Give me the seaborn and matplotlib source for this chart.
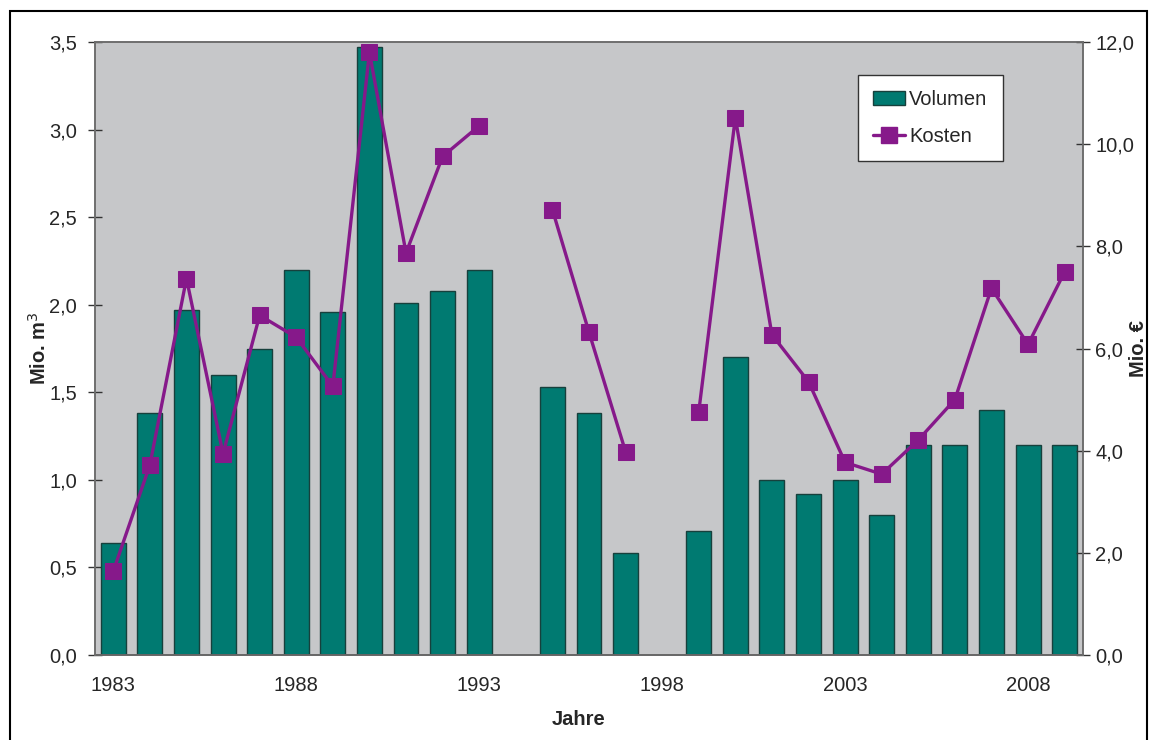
import numpy as np
import pandas as pd
import seaborn as sns
import matplotlib.pyplot as plt
from matplotlib.patches import Patch, Rectangle
from matplotlib.lines import Line2D
from matplotlib.ticker import FuncFormatter, FixedLocator

# Jahre mit Daten (1994 und 1998 fehlen)
years = [1983, 1984, 1985, 1986, 1987, 1988, 1989, 1990, 1991, 1992, 1993,
         1995, 1996, 1997,
         1999, 2000, 2001, 2002, 2003, 2004, 2005, 2006, 2007, 2008, 2009]
# Volumen in Mio. m3
volumen = [0.64, 1.38, 1.97, 1.60, 1.75, 2.20, 1.96, 3.47, 2.01, 2.08, 2.20,
           1.53, 1.38, 0.58,
           0.71, 1.70, 1.00, 0.92, 1.00, 0.80, 1.20, 1.20, 1.40, 1.20, 1.20]
# Kosten in Mio. Euro
kosten = [1.64, 3.72, 7.37, 3.94, 6.65, 6.22, 5.26, 11.8, 7.87, 9.76, 10.36,
          8.72, 6.32, 3.98,
          4.76, 10.52, 6.27, 5.35, 3.77, 3.54, 4.21, 5.00, 7.18, 6.08, 7.50]
# zusammenhaengende Abschnitte der Linie
segment = [1] * 11 + [2] * 3 + [3] * 11
label_years = [1983, 1988, 1993, 1998, 2003, 2008]

BAR = "#007a71"
LINE = "#86198a"
BG = "#c6c7c9"

df = pd.DataFrame({"Jahr": years, "Volumen": volumen, "Kosten": kosten, "seg": segment})

sns.set_style("white")
plt.rcParams['font.family'] = ['Liberation Sans', 'DejaVu Sans']

fig = plt.figure(figsize=(11.5, 7.4), dpi=100)
ax = fig.add_axes([0.0826, 0.1149, 0.8591, 0.8283])
ax.set_facecolor(BG)

sns.barplot(data=df, x="Jahr", y="Volumen", native_scale=True, width=0.68,
            color=BAR, edgecolor="#17403c", linewidth=1, saturation=1,
            errorbar=None, ax=ax)

ax2 = ax.twinx()
sns.lineplot(data=df, x="Jahr", y="Kosten", units="seg", estimator=None,
             color=LINE, linewidth=2.4, marker="s", markersize=12,
             markeredgecolor=LINE, ax=ax2, legend=False)

comma = FuncFormatter(lambda v, p: "{:.1f}".format(v).replace(".", ","))

ax.set_xlim(1982.5, 2009.5)
ax.set_ylim(0, 3.5)
ax2.set_ylim(0, 12)
ax.set_yticks(np.arange(0, 3.51, 0.5))
ax2.set_yticks(np.arange(0, 12.1, 2))
ax.yaxis.set_major_formatter(comma)
ax2.yaxis.set_major_formatter(comma)

ax.set_xticks(label_years)
ax.set_xticklabels([str(y) for y in label_years])
ax.xaxis.set_minor_locator(FixedLocator(np.arange(1982.5, 2009.6, 1)))
ax.tick_params(axis="x", which="major", length=0, pad=15, labelsize=14.5)
ax.tick_params(axis="x", which="minor", direction="inout", length=10,
               width=1, color="#333333")
ax.tick_params(axis="y", direction="inout", length=10, width=1,
               color="#333333", labelsize=14.5, pad=8, left=True)
ax2.tick_params(axis="y", direction="inout", length=10, width=1,
                color="#333333", labelsize=14.5, pad=4, right=True)

for a in (ax, ax2):
    for s in a.spines.values():
        s.set_color("#6e6e6e")
        s.set_linewidth(1.2)
ax.spines["bottom"].set_color("#333333")

ax.set_xlabel("Jahre", fontsize=14.5, fontweight="bold")
ax.xaxis.set_label_coords(0.49, -0.09)
ax.set_ylabel("Mio. m$^3$", fontsize=14.5, fontweight="bold")
ax.yaxis.set_label_coords(-0.046, 0.5)
ax2.set_ylabel("Mio. €", fontsize=14.5, fontweight="bold")
ax2.yaxis.set_label_coords(1.047, 0.5)

handles = [Patch(facecolor=BAR, edgecolor="#17403c", linewidth=1),
           Line2D([], [], color=LINE, linewidth=2.4, marker="s", markersize=12)]
leg = ax2.legend(handles, ["Volumen", "Kosten"], loc="upper left",
                 bbox_to_anchor=(0.762, 0.962), fontsize=14.5, frameon=True,
                 fancybox=False, edgecolor="#333333", framealpha=1,
                 handlelength=1.6, handletextpad=0.2, labelspacing=0.85,
                 borderpad=0.75)
leg.get_frame().set_linewidth(1)

fig.patches.append(Rectangle((0.009, -0.01), 0.988, 0.995, transform=fig.transFigure,
                             fill=False, edgecolor="black", linewidth=1.5))

fig.savefig("out.png", dpi=100)
plt.close()
